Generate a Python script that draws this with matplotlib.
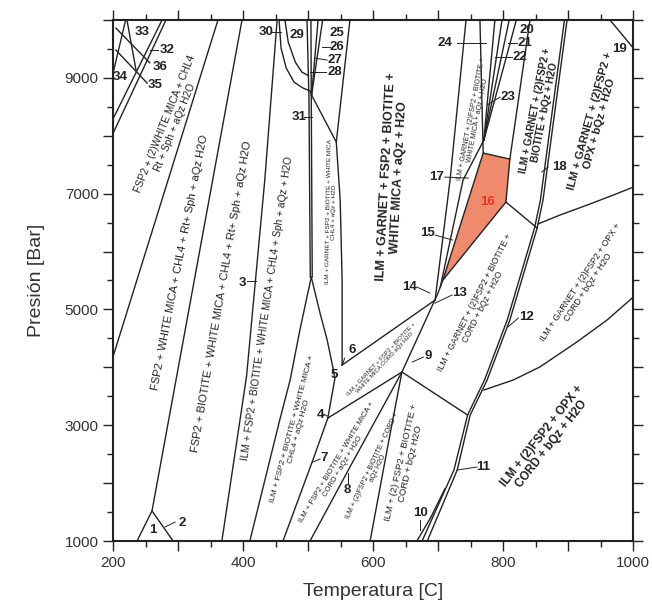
#pseudosection P-T (Temperatura vs Presion)
import matplotlib
matplotlib.use('Agg')
import matplotlib.pyplot as plt
from matplotlib.ticker import MultipleLocator, FuncFormatter

plt.rcParams['font.family'] = ['Liberation Sans', 'DejaVu Sans']

# phase boundaries as (T [C], P [bar])
corner_a = [(200, 8300), (275, 10000)]
corner_b = [(200, 8050), (281, 10000)]
corner_c = [(200, 9100), (219, 10000)]
corner_d = [(221, 10000), (235, 9130)]
corner_e = [(204, 9860), (256, 9260)]
corner_f = [(204, 9480), (252, 8910)]
line_fsp = [(200, 4200), (361, 10000)]
line_rt = [(398, 10000), (259.5, 1520)]
triangle_1 = [(236.5, 1000), (259.5, 1520), (292, 1000)]
line_3 = [(452, 10000), (433, 7234), (405, 3850), (367, 1000)]
curve_30 = [(455, 10000), (458, 9514), (466, 9169), (478, 8927), (492, 8823), (503, 8772), (505, 8702)]
curve_29 = [(464, 10000), (469, 9620), (480, 9272), (490, 9100), (500, 9040)]
vert_a = [(498, 10000), (501, 8616), (503, 5559)]
vert_b = [(504, 10000), (504.5, 8702), (506, 5559)]
fan_26 = [(515, 10000), (505, 8702)]
fan_27 = [(522, 10000), (505, 8702)]
line_31 = [(505, 8702), (543, 7891)]
line_25 = [(564, 10000), (543, 7891), (549, 6889), (552, 5507), (552, 4040)]
lens_left = [(504.5, 5559), (487, 4644), (472, 3780), (456, 3090), (410, 1000)]
lens_right = [(504.5, 5559), (518, 4938), (529, 4471), (537, 4040), (541, 3815), (530, 3124)]
line_7 = [(530, 3124), (507, 2399), (461, 1000)]
line_6 = [(552, 4040), (695, 5162)]
line_4 = [(530, 3124), (644, 3919), (745, 3176)]
line_8 = [(502.6, 1000), (564, 2278), (644, 3919)]
line_9 = [(595, 1000), (624, 2744), (644, 3919), (699.5, 5283), (707, 5507)]
line_17 = [(742.6, 10000), (718, 7234), (695, 5162)]
line_15 = [(770, 7925), (738, 7234), (703, 5387)]
line_24 = [(764, 10000), (769, 7701)]
fan_21 = [(787, 10000), (770, 7925)]
fan_22 = [(798, 10000), (770, 7925)]
fan_23 = [(809, 10000), (770, 7925)]
fan_20 = [(820, 10000), (770, 7925)]
line_16r = [(841, 10000), (810, 7597)]
line_16b = [(804, 6855), (852, 6406)]
line_11a = [(898, 10000), (861, 6889), (852, 6406), (810, 4817), (775, 3780), (749, 3176), (729, 2226), (683, 1000)]
line_11b = [(894, 10000), (857, 6889), (848, 6406), (806, 4817), (771, 3780), (745, 3176), (724, 2226), (675, 1000)]
line_10 = [(667, 1000), (688, 1400), (710, 1900)]
line_12 = [(853, 6475), (887, 6630), (929, 6803), (969, 6975), (1000, 7114)]
line_opx = [(1000, 5214), (959.5, 4817), (913, 4437), (856, 4005), (815, 3780), (770, 3608)]
line_19 = [(964, 10000), (1000, 9514)]
field_16 = [(707, 5507), (769, 7701), (810, 7597), (804, 6855)]

boundaries = [corner_a, corner_b, corner_c, corner_d, corner_e, corner_f,
              line_fsp, line_rt, triangle_1, line_3, curve_30, curve_29,
              vert_a, vert_b, fan_26, fan_27, line_31, line_25, lens_left,
              lens_right, line_7, line_6, line_4, line_8, line_9, line_17,
              line_15, line_24, fan_21, fan_22, fan_23, fan_20, line_16r,
              line_16b, line_11a, line_11b, line_10, line_12, line_opx, line_19]

# field numbers
num_text = ['1', '2', '3', '4', '5', '6', '7', '8', '9', '10', '11', '12',
            '13', '14', '15', '17', '18', '19', '20', '21', '22', '23', '24',
            '25', '26', '27', '28', '29', '30', '31', '32', '33', '34', '35', '36']
num_T = [261, 306, 398, 518, 540, 567, 524, 560, 684, 672, 769, 835,
         733, 656, 683, 698, 886, 978, 836, 833, 826, 807, 710,
         544, 544, 541, 540, 483, 435, 486, 283, 244, 210, 264, 272]
num_P = [1190, 1311, 5456, 3176, 3867, 4298, 2433, 1881, 4195, 1484, 2278, 4869,
         5283, 5387, 6319, 7286, 7459, 9497, 9825, 9600, 9359, 8668, 9600,
         9775, 9531, 9307, 9100, 9740, 9790, 8323, 9480, 9790, 9013, 8875, 9186]

leaders = [[(279.5, 1242), (295, 1328)], [(405, 5490), (420, 5490)],
           [(523, 3193), (529, 3159)], [(556, 4160), (552, 4030)],
           [(507, 2364), (518, 2416)], [(561, 2174), (561, 2002)],
           [(660, 4091), (677, 4178)], [(672, 1363), (672, 1190)],
           [(729, 2226), (759.5, 2278)], [(807, 4696), (823, 4851)],
           [(721, 5248), (695, 5110)], [(667, 5387), (687, 5283)],
           [(695, 6285), (722, 6198)], [(710, 7286), (746, 7269)],
           [(859, 7373), (869, 7459)], [(807, 9600), (821, 9600)],
           [(787, 9359), (813, 9359)], [(775, 8530), (795, 8668)],
           [(729, 9600), (773, 9600)], [(521, 9531), (533, 9531)],
           [(510, 9341), (529, 9307)], [(503, 9100), (527, 9100)],
           [(444, 9790), (458, 9790)], [(493, 8323), (506, 8323)],
           [(256.5, 9480), (269, 9480)]]

# assemblage labels: text, T, P, angle, size, weight
fields = [
    ("FSP2 + (2)WHITE MICA + CHL4\nRt + Sph + aQz H2O", 287, 8170, 68, 7.3, 'normal'),
    ("FSP2 + WHITE MICA + CHL4 + Rt+ Sph + aQz H2O", 302, 5818, 79, 8, 'normal'),
    ("FSP2 + BIOTITE + WHITE MICA + CHL4 + Rt+ Sph + aQz H2O", 367, 5214, 80.3, 8, 'normal'),
    ("ILM + FSP2 + BIOTITE + WHITE MICA + CHL4 + Sph + aQz + H2O", 437, 5024, 81.7, 7.3, 'normal'),
    ("ILM + FSP2 + BIOTITE + WHITE MICA +\nCHL4 + aQz H2O", 481, 2917, 75, 6, 'normal'),
    ("ILM + FSP2 + BIOTITE + WHITE MICA +\nCORD + aQz + H2O", 549, 2330, 59, 5.5, 'normal'),
    ("ILM + (2)FSP2 + BIOTITE + CORD +\naQz H2O", 603, 2278, 65, 5, 'normal'),
    ("ILM + (2) FSP2 + BIOTITE +\nCORD + bQz H2O", 650, 2347, 77, 6.8, 'normal'),
    ("ILM + GARNET + FSP2 + BIOTITE +\nWHITE MICA CORD aQz H2O", 615, 4108, 47, 4.3, 'normal'),
    ("ILM + GARNET + (2)FSP2 + BIOTITE +\nCORD + bQz + H2O", 763, 5076, 63, 6.2, 'normal'),
    ("ILM + GARNET + (2)FSP2 + OPX +\nCORD + bQz + H2O", 924, 5421, 56.7, 6.3, 'normal'),
    ("ILM + (2)FSP2 + OPX +\nCORD + bQz + H2O", 867, 2744, 51.8, 8.5, 'bold'),
    ("ILM + GARNET + FSP2 + BIOTITE +\nWHITE MICA + aQz + H2O", 630, 7286, 87, 9, 'bold'),
    ("ILM + GARNET + FSP2 + BIOTITE + WHITE MICA\nCHL4 + aQz + H2O", 535, 6682, 89, 4.6, 'normal'),
    ("ILM + GARNET + (2)FSP2 + BIOTITE +\nWHITE MICA + aQz + H2O", 756, 8271, 79, 5, 'normal'),
    ("ILM + GARNET + (2)FSP2 +\nBIOTITE + bQz + H2O", 856, 8426, 79, 7.2, 'bold'),
    ("ILM + GARNET + (2)FSP2 +\nOPX + bQz + H2O", 941, 8236, 74.6, 8, 'bold'),
]

fig = plt.figure(figsize=(6.52, 6.07), dpi=100)
ax = fig.add_axes([0.1738, 0.1087, 0.7976, 0.8584])

ax.fill([p[0] for p in field_16], [p[1] for p in field_16],
        facecolor='#f08a6c', edgecolor='#222222', lw=1.0, zorder=1)

for b in boundaries:
    ax.plot([p[0] for p in b], [p[1] for p in b], color='#222222', lw=1.0,
            solid_joinstyle='round', zorder=2)

for seg in leaders:
    ax.plot([p[0] for p in seg], [p[1] for p in seg], color='#222222', lw=0.7, zorder=2)

for s, t, p in zip(num_text, num_T, num_P):
    ax.text(t, p, s, ha='center', va='center', fontsize=9.5, fontweight='bold',
            color='#222222', zorder=3)
ax.text(776, 6855, '16', ha='center', va='center', fontsize=9.5, fontweight='bold',
        color='#e8341c', zorder=3)

for s, t, p, ang, size, w in fields:
    ax.text(t, p, s, ha='center', va='center', rotation=ang, rotation_mode='anchor',
            fontsize=size, fontweight=w, linespacing=1.0, multialignment='center',
            color='#222222', zorder=3)

ax.set_xlim(200, 1000)
ax.set_ylim(1000, 10000)
ax.xaxis.set_major_locator(MultipleLocator(100))
ax.xaxis.set_minor_locator(MultipleLocator(50))
ax.yaxis.set_major_locator(MultipleLocator(1000))
ax.yaxis.set_minor_locator(MultipleLocator(500))
ax.xaxis.set_major_formatter(FuncFormatter(lambda v, pos: '%d' % v if int(round(v)) % 200 == 0 else ''))
ax.yaxis.set_major_formatter(FuncFormatter(lambda v, pos: '%d' % v if int(round(v)) % 2000 == 1000 else ''))
ax.tick_params(which='both', direction='out', top=True, right=True, width=1.0,
               color='#222222', labelsize=11, labelcolor='#333333')
ax.tick_params(which='major', length=7)
ax.tick_params(which='minor', length=4)
for sp in ax.spines.values():
    sp.set_linewidth(1.5)
    sp.set_color('#222222')

ax.set_xlabel('Temperatura [C]', fontsize=14, color='#333333', labelpad=10)
ax.set_ylabel('Presión [Bar]', fontsize=14, color='#333333', labelpad=14)

fig.savefig('out.png', dpi=100)
